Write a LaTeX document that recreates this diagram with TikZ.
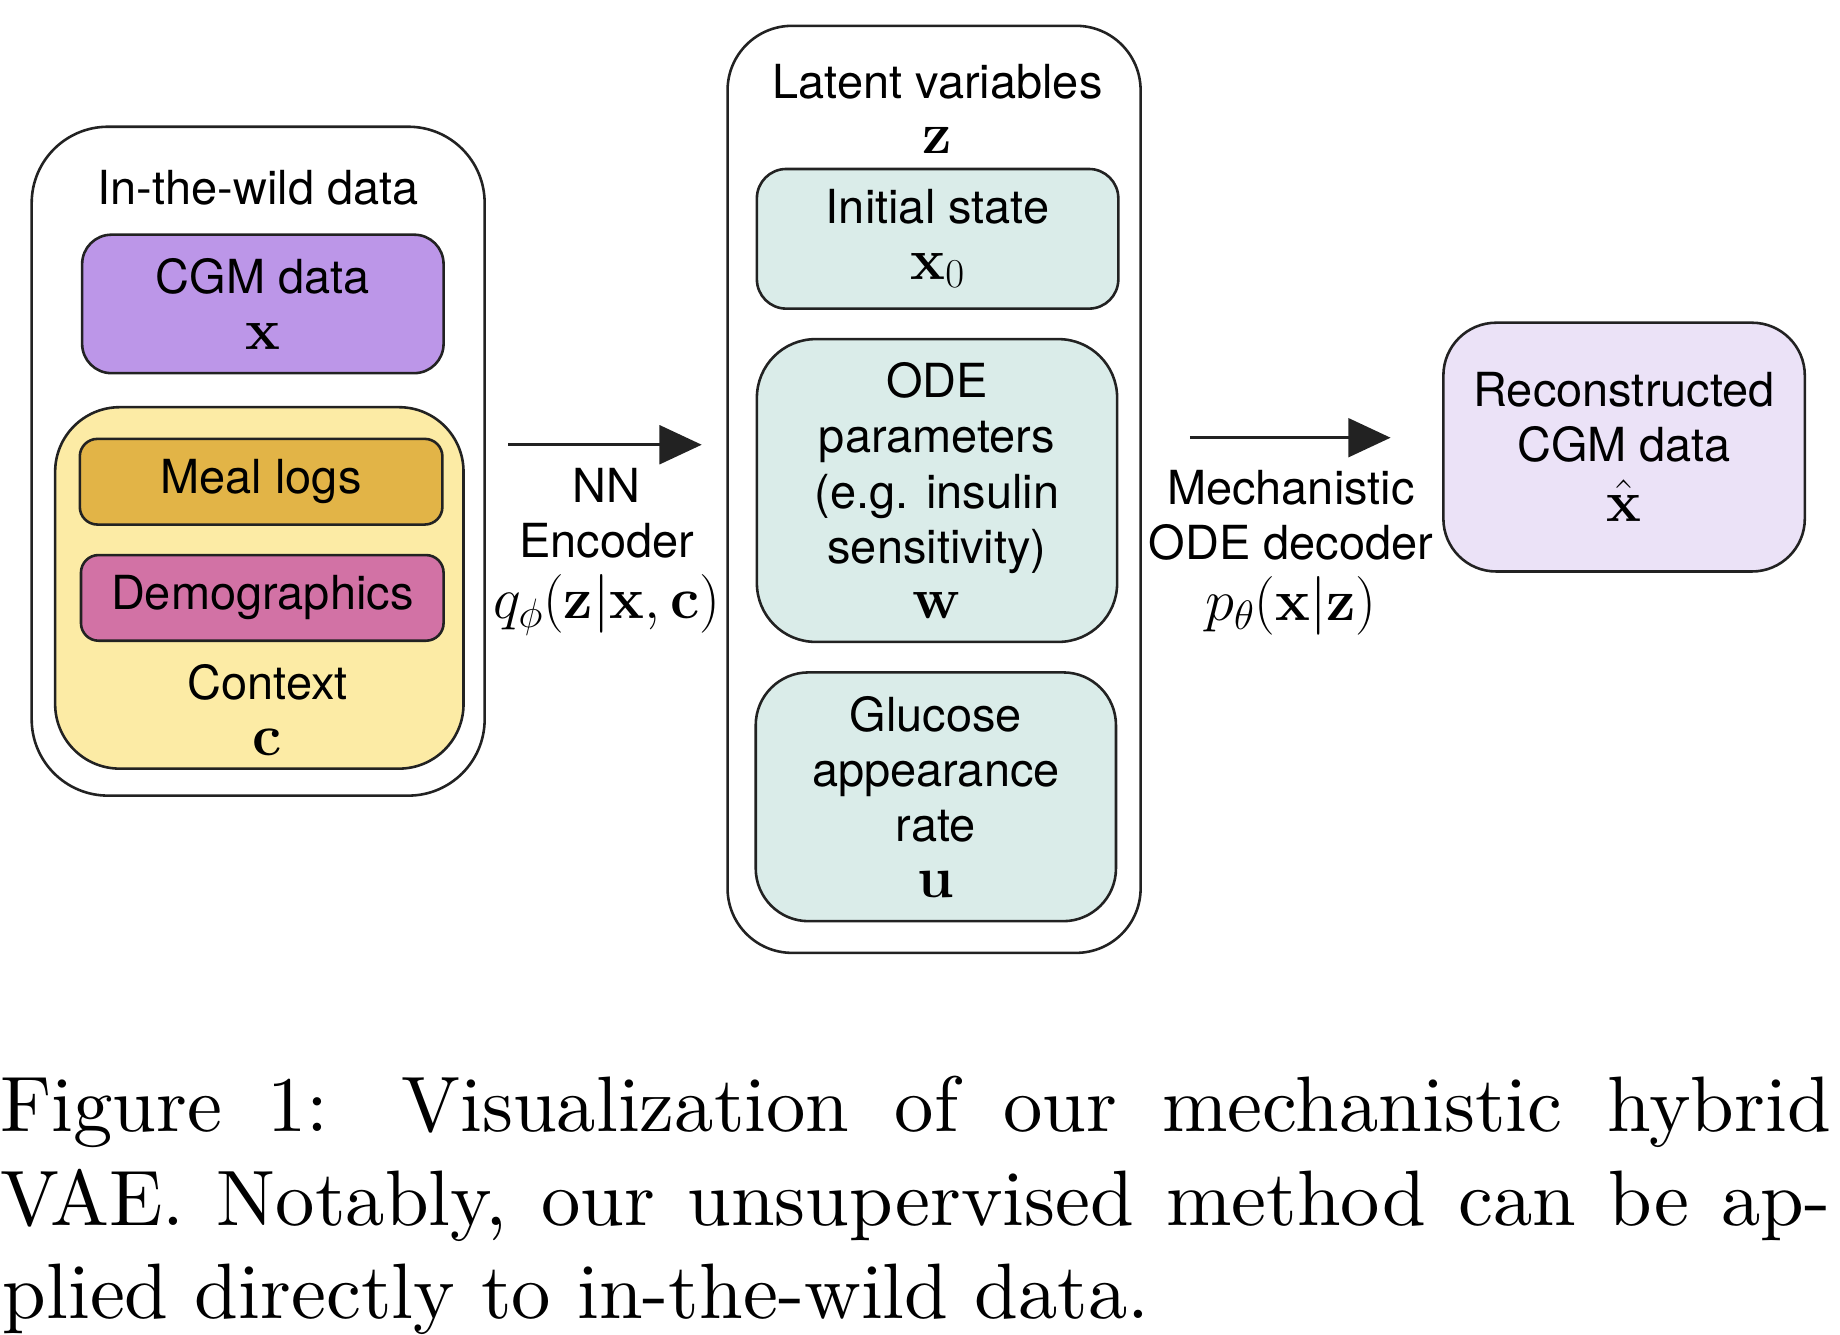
\RequirePackage{fix-cm}
\documentclass[tikz,border=0pt]{standalone}
\usepackage[no-math]{fontspec}
\newfontfamily\helv{TeX Gyre Heros}
\newfontfamily\capfont{lmroman10-regular}[Extension=.otf]
\usetikzlibrary{arrows.meta}
\newcommand\mth[1]{{\fontsize{50}{47}\selectfont$#1$}}
\definecolor{cgmfill}{HTML}{BC96E8}
\definecolor{ctxfill}{HTML}{FCEBA5}
\definecolor{mealfill}{HTML}{E2B447}
\definecolor{demofill}{HTML}{D272A5}
\definecolor{latfill}{HTML}{DAECE9}
\definecolor{recfill}{HTML}{EBE2F7}
\definecolor{edge}{HTML}{222222}
\begin{document}
\begin{tikzpicture}[x=1pt,y=-1pt,
  box/.style={draw=edge, line width=2.2pt, inner sep=0pt, align=center,
    font=\helv\fontsize{40}{47}\selectfont},
  lbl/.style={font=\helv\fontsize{40}{47}\selectfont, align=center, inner sep=0pt},
  arr/.style={draw=edge, line width=2.5pt, -{Triangle[length=36pt,width=33pt]}},
  capline/.style={font=\capfont\fontsize{67}{80}\selectfont, inner sep=0pt, anchor=base west}]
\useasboundingbox (0,0) rectangle (1568,1137);

% left group
\node[box, rounded corners=65pt, minimum width=386pt, minimum height=570pt] (wild) at (220,393) {};
\node[lbl] (wildt) at (220,160) {In-the-wild data};
\node[box, fill=cgmfill, rounded corners=25pt, minimum width=308pt, minimum height=118pt] (cgm) at (224,259) {CGM data\\\mth{\mathbf{x}}};
\node[box, fill=ctxfill, rounded corners=55pt, minimum width=348pt, minimum height=308pt] (ctx) at (221,501) {};
\node[box, fill=mealfill, rounded corners=15pt, minimum width=309pt, minimum height=73pt] (meal) at (222.5,410.5) {Meal logs};
\node[box, fill=demofill, rounded corners=15pt, minimum width=309pt, minimum height=73pt] (demo) at (223.5,509.5) {Demographics};
\node[lbl] (ctxt) at (228,605) {Context\\\mth{\mathbf{c}}};

% middle group
\node[box, rounded corners=55pt, minimum width=352pt, minimum height=790pt] (lat) at (796,417) {};
\node[lbl] (latt) at (799,93) {Latent variables\\\mth{\mathbf{z}}};
\node[box, fill=latfill, rounded corners=25pt, minimum width=308pt, minimum height=119pt] (init) at (799,203.5) {Initial state\\\mth{\mathbf{x}_0}};
\node[box, fill=latfill, rounded corners=50pt, minimum width=307pt, minimum height=258pt] (ode) at (798.5,418) {ODE\\parameters\\(e.g. insulin\\sensitivity)\\\mth{\mathbf{w}}};
\node[box, fill=latfill, rounded corners=45pt, minimum width=307pt, minimum height=212pt] (glu) at (797.5,679) {Glucose\\appearance\\rate\\\mth{\mathbf{u}}};

% right
\node[box, fill=recfill, rounded corners=45pt, minimum width=308pt, minimum height=212pt] (rec) at (1384,381) {Reconstructed\\CGM data\\[4pt]\mth{\hat{\mathbf{x}}}};

% arrows
\coordinate (e1s) at (433,379);
\coordinate (e1e) at (598,379);
\draw[arr] (e1s) -- (e1e);
\node[lbl] (enc) at (517,470) {NN\\Encoder\\[5pt]\mth{q_\phi(\mathbf{z}|\mathbf{x},\mathbf{c})}};
\coordinate (e2s) at (1014,373);
\coordinate (e2e) at (1185,373);
\draw[arr] (e2s) -- (e2e);
\node[lbl] (dec) at (1100,471) {Mechanistic\\ODE decoder\\[5pt]\mth{p_\theta(\mathbf{x}|\mathbf{z})}};

% caption
\node[capline] (cap1) at (0,964) {\hbox to 1560pt{Figure 1: Visualization of our mechanistic hybrid}};
\node[capline] (cap2) at (0,1044) {\hbox to 1560pt{VAE. Notably, our unsupervised method can be ap-}};
\node[capline] (cap3) at (2,1124) {plied directly to in-the-wild data.};
\end{tikzpicture}
\end{document}
